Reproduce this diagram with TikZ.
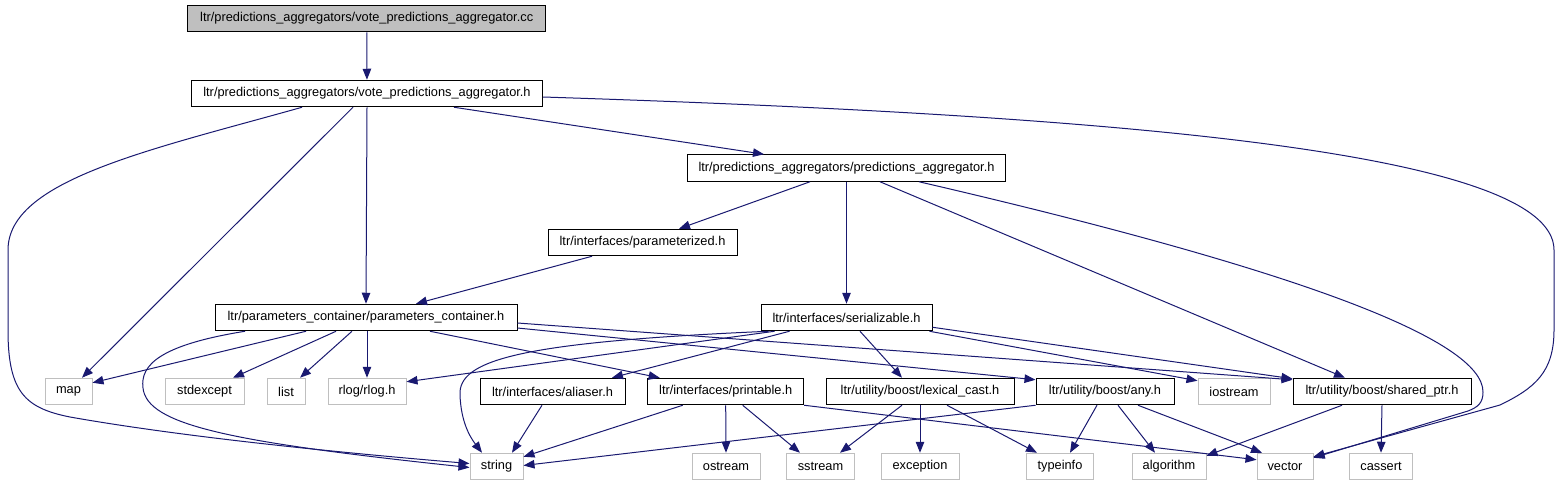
\documentclass[tikz,border=0pt]{standalone}
\usepackage{fontspec}
\setmainfont{Liberation Sans}
\usetikzlibrary{arrows.meta}
\definecolor{edgeblue}{RGB}{25,25,112}
\definecolor{sysgray}{RGB}{191,191,191}
\tikzset{
  hdr/.style={draw=black, fill=white, line width=1pt, minimum height=26.5pt,
    inner sep=0pt, font=\fontsize{12.8}{14}\selectfont},
  sys/.style={hdr, draw=sysgray},
  dep/.style={draw=edgeblue, line width=1pt, -{Triangle[length=11pt,width=8.5pt]}}
}
\begin{document}
\begin{tikzpicture}[x=1pt, y=-1pt]
  \useasboundingbox (0,0) rectangle (1568,485);

  % Fichiers du projet
  \node[hdr, fill=sysgray, minimum width=358pt] (cc) at (366.7,18.5) {ltr/predictions\_aggregators/vote\_predictions\_aggregator.cc};
  \node[hdr, minimum width=351pt] (voteh) at (367,93.5) {ltr/predictions\_aggregators/vote\_predictions\_aggregator.h};
  \node[hdr, minimum width=318pt] (pah) at (846.5,168) {ltr/predictions\_aggregators/predictions\_aggregator.h};
  \node[hdr, minimum width=189pt] (param) at (642.5,242.5) {ltr/interfaces/parameterized.h};
  \node[hdr, minimum width=302pt] (pc) at (366,317.5) {ltr/parameters\_container/parameters\_container.h};
  \node[hdr, minimum width=171pt] (ser) at (846.5,317.5) {ltr/interfaces/serializable.h};
  \node[hdr, minimum width=145pt] (aliaser) at (552.5,391.5) {ltr/interfaces/aliaser.h};
  \node[hdr, minimum width=156pt] (printable) at (725.7,391.5) {ltr/interfaces/printable.h};
  \node[hdr, minimum width=188pt] (lexcast) at (920,391.5) {ltr/utility/boost/lexical\_cast.h};
  \node[hdr, minimum width=138pt] (any) at (1105,391.5) {ltr/utility/boost/any.h};
  \node[hdr, minimum width=178pt] (sharedptr) at (1382,391.5) {ltr/utility/boost/shared\_ptr.h};

  % En-tetes systeme
  \node[sys, minimum width=47pt] (map) at (68.5,391.5) {map};
  \node[sys, minimum width=79pt] (stdexcept) at (204.5,391.5) {stdexcept};
  \node[sys, minimum width=38pt] (list) at (286,391.5) {list};
  \node[sys, minimum width=78pt] (rlog) at (367,391.5) {rlog/rlog.h};
  \node[sys, minimum width=72pt] (iostream) at (1234,391.5) {iostream};
  \node[sys, minimum width=53pt] (string) at (496.5,466.5) {string};
  \node[sys, minimum width=68pt] (ostream) at (726,466.5) {ostream};
  \node[sys, minimum width=68pt] (sstream) at (820.5,466.5) {sstream};
  \node[sys, minimum width=78pt] (exception) at (920,466.5) {exception};
  \node[sys, minimum width=67pt] (typeinfo) at (1060,466.5) {typeinfo};
  \node[sys, minimum width=74pt] (algorithm) at (1169,466.5) {algorithm};
  \node[sys, minimum width=56pt] (vector) at (1285,466.5) {vector};
  \node[sys, minimum width=63pt] (cassert) at (1381,466.5) {cassert};

  % Dependances de vote_predictions_aggregator
  \draw[dep] (cc) -- (voteh);
  \draw[dep] ([xshift=-65pt]voteh.south) .. controls (150,150) and (8,180) .. (8,250)
    -- (8,330) .. controls (8,392) and (25,408) .. (70,417)
    .. controls (200,440) and (380,456) .. ([yshift=3pt]string.west);
  \draw[dep] ([xshift=-14pt]voteh.south) -- ([xshift=13.5pt]map.north);
  \draw[dep] (voteh.south) -- (pc.north);
  \draw[dep] ([xshift=87pt]voteh.south) -- ([xshift=-82.5pt]pah.north);
  \draw[dep] ([yshift=-3.5pt]voteh.east) .. controls (1100,115) and (1554,150) .. (1554,250)
    -- (1554,330) .. controls (1554,372) and (1535,388) .. (1500,405)
    -- ([yshift=-4pt]vector.north east);

  % predictions_aggregator
  \draw[dep] ([xshift=-36.5pt]pah.south) -- ([xshift=36.5pt]param.north);
  \draw[dep] (pah) -- (ser);
  \draw[dep] ([xshift=33.5pt]pah.south) -- ([xshift=-37pt]sharedptr.north);
  \draw[dep] ([xshift=72.5pt]pah.south) .. controls (1300,270) and (1483,340) .. (1483,392)
    .. controls (1483,403) and (1478,407) .. (1468,411) -- ([yshift=-5pt]vector.north east);
  \draw[dep] ([xshift=-50.5pt]param.south) -- ([xshift=50pt]pc.north);

  % parameters_container
  \draw[dep] ([xshift=-60pt]pc.south) -- ([yshift=-5pt]map.north east);
  \draw[dep] ([xshift=-121pt]pc.south) .. controls (160,345) and (140,365) .. (143,388)
    .. controls (147,425) and (230,442) .. ([yshift=-1pt]string.west);
  \draw[dep] ([xshift=-30pt]pc.south) -- ([xshift=28.5pt]stdexcept.north);
  \draw[dep] ([xshift=-14pt]pc.south) -- ([xshift=14pt]list.north);
  \draw[dep] ([xshift=1pt]pc.south) -- (rlog.north);
  \draw[dep] ([xshift=64pt]pc.south) -- ([xshift=-66pt]printable.north);
  \draw[dep] ([yshift=-5.5pt]pc.east) -- ([yshift=-2pt]sharedptr.north west);
  \draw[dep] ([yshift=-10.5pt]pc.east) -- ([yshift=-2pt]any.north west);

  % serializable
  \draw[dep] ([xshift=-78pt]ser.south) .. controls (520,342) and (458,360) .. (460,395)
    .. controls (461,422) and (470,437) .. ([xshift=-14.5pt]string.north);
  \draw[dep] ([xshift=-72pt]ser.south) -- ([yshift=-4pt]rlog.north east);
  \draw[dep] ([xshift=-57pt]ser.south) -- ([xshift=59.5pt]aliaser.north);
  \draw[dep] ([xshift=13.5pt]ser.south) -- ([xshift=-18pt]lexcast.north);
  \draw[dep] ([xshift=-3pt]ser.south east) -- ([yshift=-3pt]iostream.north west);
  \draw[dep] ([yshift=4pt]ser.south east) -- ([yshift=-1pt]sharedptr.north west);

  % niveau inferieur
  \draw[dep] ([xshift=-10.5pt]aliaser.south) -- ([xshift=15.5pt]string.north);
  \draw[dep] ([xshift=-43pt]printable.south) -- ([yshift=-4pt]string.north east);
  \draw[dep] (printable.south) -- (ostream.north);
  \draw[dep] ([xshift=17pt]printable.south) -- ([xshift=-20.5pt]sstream.north);
  \draw[dep] (printable.south east) -- ([yshift=-7pt]vector.north west);
  \draw[dep] ([xshift=-18pt]lexcast.south) -- ([xshift=19.5pt]sstream.north);
  \draw[dep] (lexcast) -- (exception);
  \draw[dep] ([xshift=27pt]lexcast.south) -- ([xshift=-23pt]typeinfo.north);
  \draw[dep] (any.south west) -- ([yshift=1pt]string.east);
  \draw[dep] ([xshift=-8pt]any.south) -- ([xshift=10pt]typeinfo.north);
  \draw[dep] ([xshift=13pt]any.south) -- ([xshift=-14pt]algorithm.north);
  \draw[dep] ([xshift=33pt]any.south) -- ([xshift=-23pt]vector.north);
  \draw[dep] ([xshift=-40pt]sharedptr.south) -- ([yshift=-3pt]algorithm.north east);
  \draw[dep] (sharedptr.south) -- (cassert.north);
\end{tikzpicture}
\end{document}
